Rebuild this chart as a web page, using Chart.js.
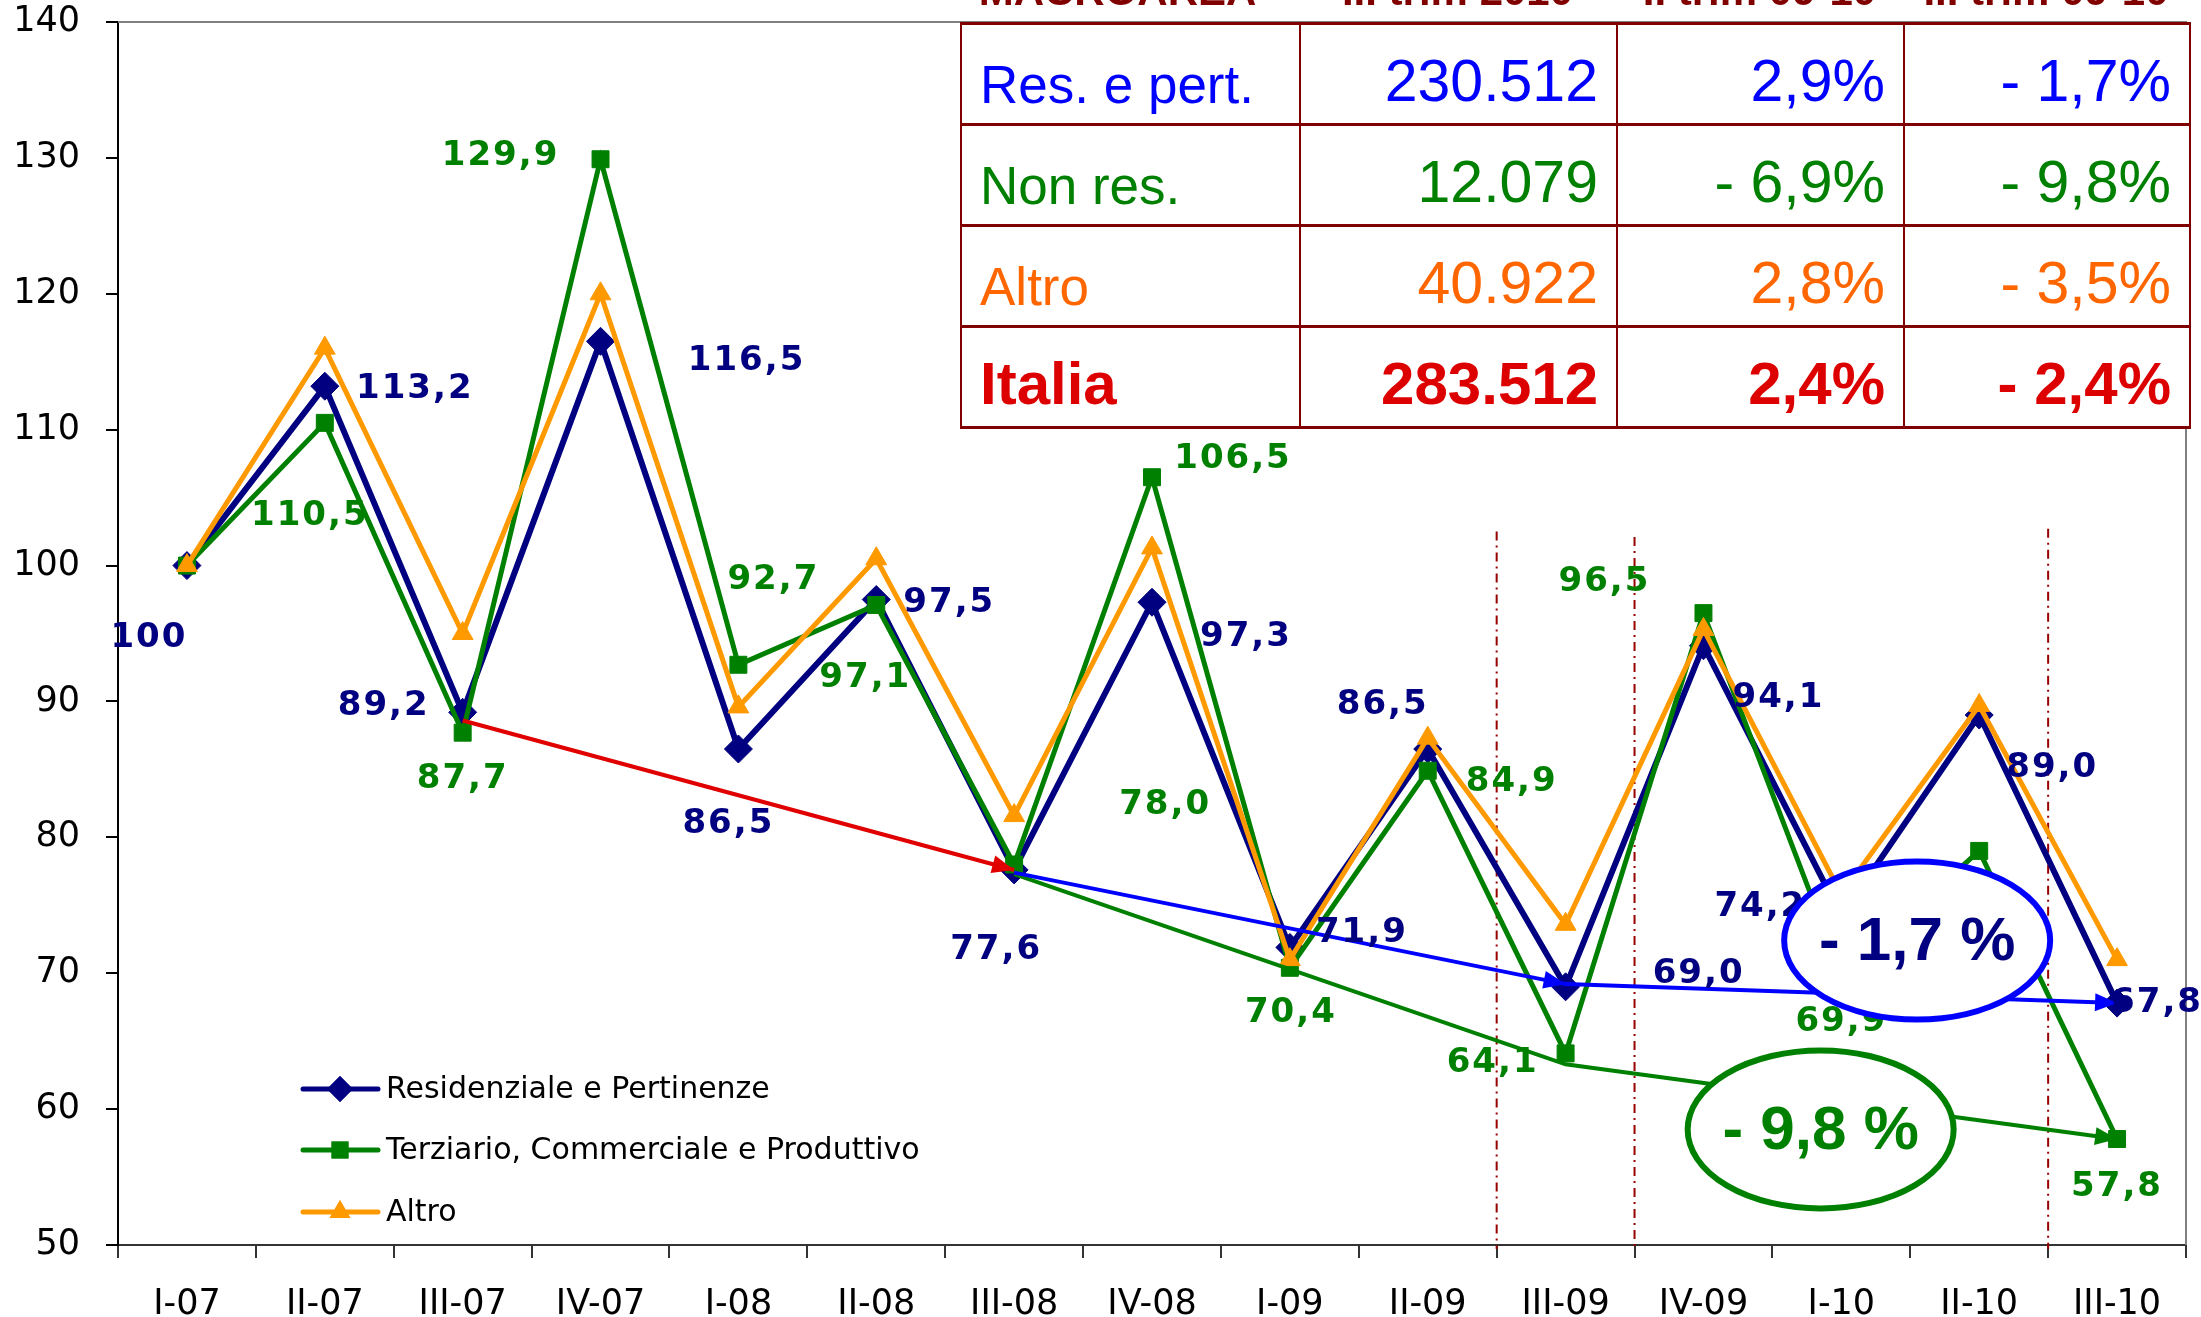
<!DOCTYPE html>
<html>
<head>
<meta charset="utf-8">
<script src="https://cdn.jsdelivr.net/npm/chart.js@4.4.0/dist/chart.umd.min.js"></script>
<style>
html, body { margin: 0; padding: 0; background: #fff; }
#wrap { position: relative; width: 2201px; height: 1317px; overflow: hidden; }
#c { position: absolute; left: 0; top: 0; }
#tbl { position: absolute; left: 960px; top: 22px; border-collapse: collapse; background: #fff;
  font-family: "Liberation Sans", Arial, sans-serif; table-layout: fixed; }
#tbl td { border-left: 2px solid #800000; border-right: 2px solid #800000;
  border-top: 3px solid #800000; border-bottom: 3px solid #800000;
  height: 86px; vertical-align: bottom; padding: 0 18px 12px 18px; line-height: 1;
  text-align: right; font-size: 59px; white-space: nowrap; overflow: hidden; }
#tbl td.area { text-align: left; font-size: 53px; }
.hdr { position: absolute; top: -32px; font: bold 42px "Liberation Sans", Arial, sans-serif;
  color: #800000; text-align: center; line-height: 45px; white-space: nowrap; }
</style>
</head>
<body>
<div id="wrap">
  <canvas id="c" width="2201" height="1317"></canvas>
  <table id="tbl"><tbody id="tbody"></tbody></table>
  <div id="hdrs"></div>
</div>
<script>
// quarters
const labels = ["I-07", "II-07", "III-07", "IV-07", "I-08", "II-08", "III-08", "IV-08",
  "I-09", "II-09", "III-09", "IV-09", "I-10", "II-10", "III-10"];

// index numbers (I-07 = 100)
const residenziale = [100, 113.2, 89.2, 116.5, 86.5, 97.5, 77.6, 97.3, 71.9, 86.5, 69.0, 94.1, 74.2, 89.0, 67.8];
const terziario = [100, 110.5, 87.7, 129.9, 92.7, 97.1, 78.0, 106.5, 70.4, 84.9, 64.1, 96.5, 69.9, 79.0, 57.8];
const altro = [100, 116.0, 95.0, 120.0, 89.6, 100.5, 81.6, 101.3, 71.0, 87.3, 73.6, 95.3, 75.8, 89.7, 71.0];

// trend arrows (III quarter to III quarter)
const trendRed = [null, null, 88.6, null, null, null, 77.6, null, null, null, null, null, null, null, null];
const trendBlue = [null, null, null, null, null, null, 77.4, null, null, null, 69.2, null, null, null, 67.8];
const trendGreen = [null, null, null, null, null, null, 77.3, null, null, null, 63.3, null, null, null, 57.8];

// table in the top right corner
const tableHeader = ["MACROAREA", "III trim 2010", "II trim 09-10", "III trim 09-10"];
const tableAreas = ["Res. e pert.", "Non res.", "Altro", "Italia"];
const tableValues = ["230.512", "12.079", "40.922", "283.512"];
const tableVarQ = ["2,9%", "- 6,9%", "2,8%", "2,4%"];
const tableVarY = ["- 1,7%", "- 9,8%", "- 3,5%", "- 2,4%"];

// callouts
const callouts = [
  { text: "- 1,7 %", x: 12.55, y: 72.4, stroke: "#0000ff", color: "#000080" },
  { text: "- 9,8 %", x: 11.85, y: 58.5, stroke: "#008000", color: "#008000" }
];

// ---- layout only (pixel offsets of data labels from their point) ----
const resLabelPos = [[-38, 73], [90, 3], [-79, -6], [146, 20], [-10, 75], [73, 4], [-18, 80], [94, 35],
  [72, -14], [-45, -44], [133, -13], [75, 52], [-81, -9], [73, 53], [40, 0]];
const terLabelPos = [null, [-15, 93], [0, 46], [-100, -3], [35, -85], [-11, 73], [151, -59], [81, -18],
  [1, 45], [84, 11], [-73, 10], [-99, -31], [0, 48], null, [0, 48]];

const rowColors = ["#0000ff", "#008000", "#ff6600", "#dd0000"];
const colWidths = [339, 317, 287, 286];

// build table
const tb = document.getElementById("tbody");
tableAreas.forEach((a, i) => {
  const tr = document.createElement("tr");
  [a, tableValues[i], tableVarQ[i], tableVarY[i]].forEach((t, j) => {
    const td = document.createElement("td");
    td.textContent = t;
    td.style.width = (colWidths[j] - 38) + "px";
    td.style.color = rowColors[i];
    if (j === 0) td.className = "area";
    if (i === 3) { td.style.fontWeight = "bold"; td.style.fontSize = "60px"; }
    tr.appendChild(td);
  });
  tb.appendChild(tr);
});
const hdrs = document.getElementById("hdrs");
let hx = 960;
tableHeader.forEach((h, j) => {
  const d = document.createElement("div");
  d.className = "hdr";
  d.textContent = h;
  d.style.left = (j === 0 ? hx - 12 : hx) + "px";
  d.style.width = colWidths[j] + "px";
  hdrs.appendChild(d);
  hx += colWidths[j];
});

const NAVY = "#000080", GREEN = "#008000", ORANGE = "#ff9900";

const fmt = (v, i) => i === 0 ? String(v) : v.toFixed(1).replace(".", ",");

function arrowHead(ctx, x0, y0, x1, y1, color, len, wid) {
  const a = Math.atan2(y1 - y0, x1 - x0);
  const bx = x1 - len * Math.cos(a), by = y1 - len * Math.sin(a);
  ctx.save();
  ctx.fillStyle = color;
  ctx.beginPath();
  ctx.moveTo(x1, y1);
  ctx.lineTo(bx + wid * Math.sin(a), by - wid * Math.cos(a));
  ctx.lineTo(bx - wid * Math.sin(a), by + wid * Math.cos(a));
  ctx.closePath();
  ctx.fill();
  ctx.restore();
}

const decor = {
  id: "decor",
  beforeDatasetsDraw(chart) {
    const { ctx, chartArea: ca, scales: { x, y } } = chart;
    ctx.save();
    // plot border top/right
    ctx.strokeStyle = "#808080";
    ctx.lineWidth = 2;
    ctx.beginPath();
    ctx.moveTo(ca.left, ca.top); ctx.lineTo(ca.right, ca.top); ctx.lineTo(ca.right, ca.bottom);
    ctx.stroke();
    // dash-dot separators
    ctx.strokeStyle = "#990000";
    ctx.lineWidth = 2;
    ctx.setLineDash([9, 5, 2, 5]);
    [[9.5, 102.5], [10.5, 102.1], [13.5, 102.7]].forEach(([xi, top]) => {
      const px = x.getPixelForValue(xi);
      ctx.beginPath();
      ctx.moveTo(px, y.getPixelForValue(top));
      ctx.lineTo(px, ca.bottom + 4);
      ctx.stroke();
    });
    ctx.restore();
  },
  afterDatasetsDraw(chart) {
    const { ctx, scales: { x, y } } = chart;
    ctx.save();
    // arrowheads on trends
    const arrows = [[trendRed, "#e00000", [6]], [trendBlue, "#0000ff", [10, 14]], [trendGreen, GREEN, [14]]];
    arrows.forEach(([arr, col, ends]) => {
      ends.forEach((e) => {
        let p = e - 1;
        while (p >= 0 && arr[p] === null) p--;
        arrowHead(ctx, x.getPixelForValue(p), y.getPixelForValue(arr[p]),
          x.getPixelForValue(e), y.getPixelForValue(arr[e]), col, 22, 9);
      });
    });
    // data labels
    ctx.font = "bold 34px 'DejaVu Sans'";
    ctx.letterSpacing = "2px";
    ctx.textAlign = "center";
    ctx.textBaseline = "middle";
    [[0, residenziale, resLabelPos, NAVY], [1, terziario, terLabelPos, GREEN]].forEach(([di, vals, pos, col]) => {
      const meta = chart.getDatasetMeta(di);
      ctx.fillStyle = col;
      vals.forEach((v, i) => {
        if (!pos[i]) return;
        const pt = meta.data[i];
        ctx.fillText(fmt(v, i), pt.x + pos[i][0], pt.y + pos[i][1]);
      });
    });
    ctx.letterSpacing = "0px";
    // legend
    const legend = [["Residenziale e Pertinenze", NAVY, "rectRot", 13], ["Terziario, Commerciale e Produttivo", GREEN, "rect", 12],
      ["Altro", ORANGE, "triangle", 12]];
    const ly = [1089, 1150, 1212];
    ctx.font = "30px 'DejaVu Sans'";
    ctx.textAlign = "left";
    legend.forEach(([t, col, ps, r], i) => {
      ctx.strokeStyle = col;
      ctx.lineWidth = 5;
      ctx.lineCap = "round";
      ctx.beginPath(); ctx.moveTo(303, ly[i]); ctx.lineTo(378, ly[i]); ctx.stroke();
      ctx.fillStyle = col;
      Chart.helpers.drawPoint(ctx, { pointStyle: ps, radius: r, borderWidth: 0 }, 340, ly[i]);
      ctx.fill();
      ctx.fillStyle = "#000";
      ctx.fillText(t, 386, ly[i] + 1);
    });
    // callout ellipses
    callouts.forEach((c) => {
      const cx = x.getPixelForValue(c.x), cy = y.getPixelForValue(c.y);
      ctx.beginPath();
      ctx.ellipse(cx, cy, 133, 79, 0, 0, Math.PI * 2);
      ctx.fillStyle = "#fff";
      ctx.fill();
      ctx.lineWidth = 6;
      ctx.strokeStyle = c.stroke;
      ctx.stroke();
      ctx.fillStyle = c.color;
      ctx.font = "bold 62px 'Liberation Sans'";
      ctx.textAlign = "center";
      ctx.textBaseline = "middle";
      ctx.fillText(c.text, cx, cy + 2);
    });
    ctx.restore();
  }
};

const trendDs = (data, color) => ({
  data, borderColor: color, borderWidth: 4, pointRadius: 0, spanGaps: true, order: 0, fill: false
});

new Chart(document.getElementById("c"), {
  type: "line",
  data: {
    labels,
    datasets: [
      { label: "Residenziale e Pertinenze", data: residenziale, borderColor: NAVY, backgroundColor: NAVY,
        borderWidth: 6, pointStyle: "rectRot", pointRadius: 14, pointBorderWidth: 1, order: 3 },
      { label: "Terziario, Commerciale e Produttivo", data: terziario, borderColor: GREEN, backgroundColor: GREEN,
        borderWidth: 5, pointStyle: "rect", pointRadius: 12, pointBorderWidth: 1, order: 2 },
      { label: "Altro", data: altro, borderColor: ORANGE, backgroundColor: ORANGE,
        borderWidth: 5, pointStyle: "triangle", pointRadius: 12, pointBorderWidth: 1, order: 1 },
      trendDs(trendRed, "#e00000"),
      trendDs(trendBlue, "#0000ff"),
      trendDs(trendGreen, GREEN)
    ]
  },
  options: {
    responsive: false,
    animation: false,
    devicePixelRatio: 1,
    layout: { padding: { top: 22, right: 11, left: 0, bottom: 0 } },
    plugins: { legend: { display: false }, tooltip: { enabled: false } },
    elements: { line: { tension: 0 } },
    scales: {
      x: {
        offset: true,
        afterFit: (s) => { s.height = 72; s.paddingLeft = 0; s.paddingRight = 0; },
        grid: { offset: true, drawOnChartArea: false, tickLength: 13, color: "#333", lineWidth: 2 },
        border: { color: "#333", width: 2 },
        ticks: { font: { family: "DejaVu Sans", size: 35 }, color: "#000", padding: 26, maxRotation: 0, autoSkip: false }
      },
      y: {
        min: 50, max: 140,
        afterFit: (s) => { s.width = 118; s.paddingTop = 0; s.paddingBottom = 0; },
        grid: { drawOnChartArea: false, tickLength: 12, color: "#000", lineWidth: 2 },
        border: { color: "#000", width: 2 },
        ticks: { stepSize: 10, font: { family: "DejaVu Sans", size: 35 }, color: "#000", padding: 26 }
      }
    }
  },
  plugins: [decor]
});
</script>
</body>
</html>
